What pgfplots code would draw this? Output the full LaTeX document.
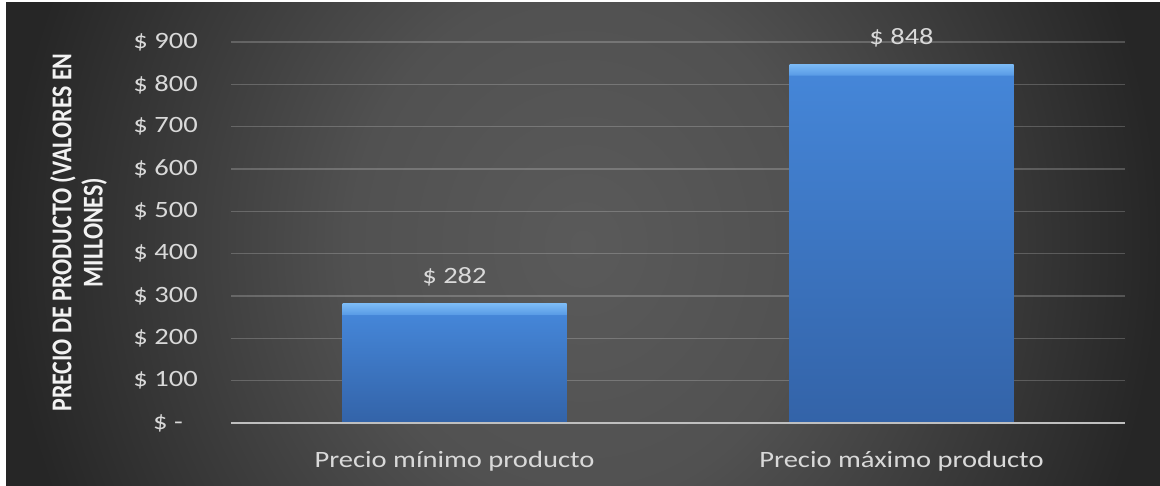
\documentclass[border=0pt]{standalone}
\usepackage{fontspec}
\setmainfont{Carlito}[FakeStretch=1.22]
\newfontfamily\ylabfont{Carlito}
\usepackage{graphicx}
\usepackage{pgfplots}
\pgfplotsset{compat=1.18}

\definecolor{bgin}{HTML}{5A5A5A}
\definecolor{bgmid}{HTML}{515151}
\definecolor{bgout}{HTML}{262626}
\definecolor{labgray}{HTML}{D9D9D9}
\definecolor{ylabcol}{HTML}{F2F2F2}
\definecolor{zeroline}{HTML}{BFBFBF}
\definecolor{barhi}{HTML}{4586D8}
\definecolor{barlo}{HTML}{3363A8}
\definecolor{beveltop}{HTML}{7CBBF6}
\definecolor{bevelbot}{HTML}{5A9CE6}

\pgfdeclareradialshading{chartbg}{\pgfpoint{0bp}{0bp}}{%
  color(0bp)=(bgin); color(10bp)=(bgmid); color(25bp)=(bgout); color(50bp)=(bgout)}
% bar shadings with a light bevelled top strip (one per bar height)
\pgfdeclareverticalshading{barlow}{100bp}{%
  color(0bp)=(barlo); color(25bp)=(barlo); color(70.3bp)=(barhi);
  color(70.5bp)=(bevelbot); color(75bp)=(beveltop); color(100bp)=(beveltop)}
\pgfdeclareverticalshading{barhigh}{100bp}{%
  color(0bp)=(barlo); color(25bp)=(barlo); color(73.4bp)=(barhi);
  color(73.5bp)=(bevelbot); color(75bp)=(beveltop); color(100bp)=(beveltop)}

\begin{document}
\begin{tikzpicture}[x=1bp,y=1bp]
\useasboundingbox (0,0) rectangle (1160,486);
\fill[white] (0,0) rectangle (1160,486);
% chart area with a soft radial gradient
\begin{scope}
  \clip (6,0) rectangle (1160,483);
  \shade[shading=chartbg] (6,-400) rectangle (1160,883);
\end{scope}

\begin{axis}[
  at={(231bp,63bp)}, anchor=south west,
  scale only axis, width=894bp, height=381bp,
  xmin=-0.5, xmax=1.5, ymin=0, ymax=900,
  clip=false,
  /pgf/number format/assume math mode=true,
  axis line style={draw=none},
  tick style={draw=none},
  ytick={0,100,...,900},
  yticklabels={{\$ -\hspace*{15bp}},\$ 100,\$ 200,\$ 300,\$ 400,\$ 500,\$ 600,\$ 700,\$ 800,\$ 900},
  xtick={0,1},
  xticklabels={Precio mínimo producto, Precio máximo producto},
  ymajorgrids,
  grid style={white, opacity=0.2, line width=1.5bp},
  ticklabel style={font=\fontsize{23.5}{28}\selectfont, text=labgray, inner sep=0pt},
  yticklabel style={anchor=east, xshift=-33bp},
  xticklabel style={anchor=base, yshift=-40bp},
  ylabel={\scalebox{1}[1.2]{\ylabfont\bfseries\fontsize{24}{26}\selectfont
    \begin{tabular}{@{}c@{}}PRECIO DE PRODUCTO (VALORES EN\\MILLONES)\end{tabular}}},
  ylabel style={at={(axis description cs:-0.168,0.5)}, anchor=center, text=ylabcol, inner sep=0pt},
  ybar, bar width=224bp, bar shift=0pt,
  nodes near coords={\$ \pgfmathprintnumber{\pgfplotspointmeta}},
  every node near coord/.append style={font=\fontsize{23.5}{28}\selectfont,
    text=labgray, anchor=base, yshift=20bp, inner sep=0pt},
]
\addplot[ybar, bar shift=0pt, draw=none, shading=barlow] coordinates {(0,282)};
\addplot[ybar, bar shift=0pt, draw=none, shading=barhigh] coordinates {(1,848)};
% horizontal category axis line
\draw[zeroline, line width=2.5bp] (axis cs:-0.5,0) -- (axis cs:1.5,0);
\end{axis}
\end{tikzpicture}
\end{document}
